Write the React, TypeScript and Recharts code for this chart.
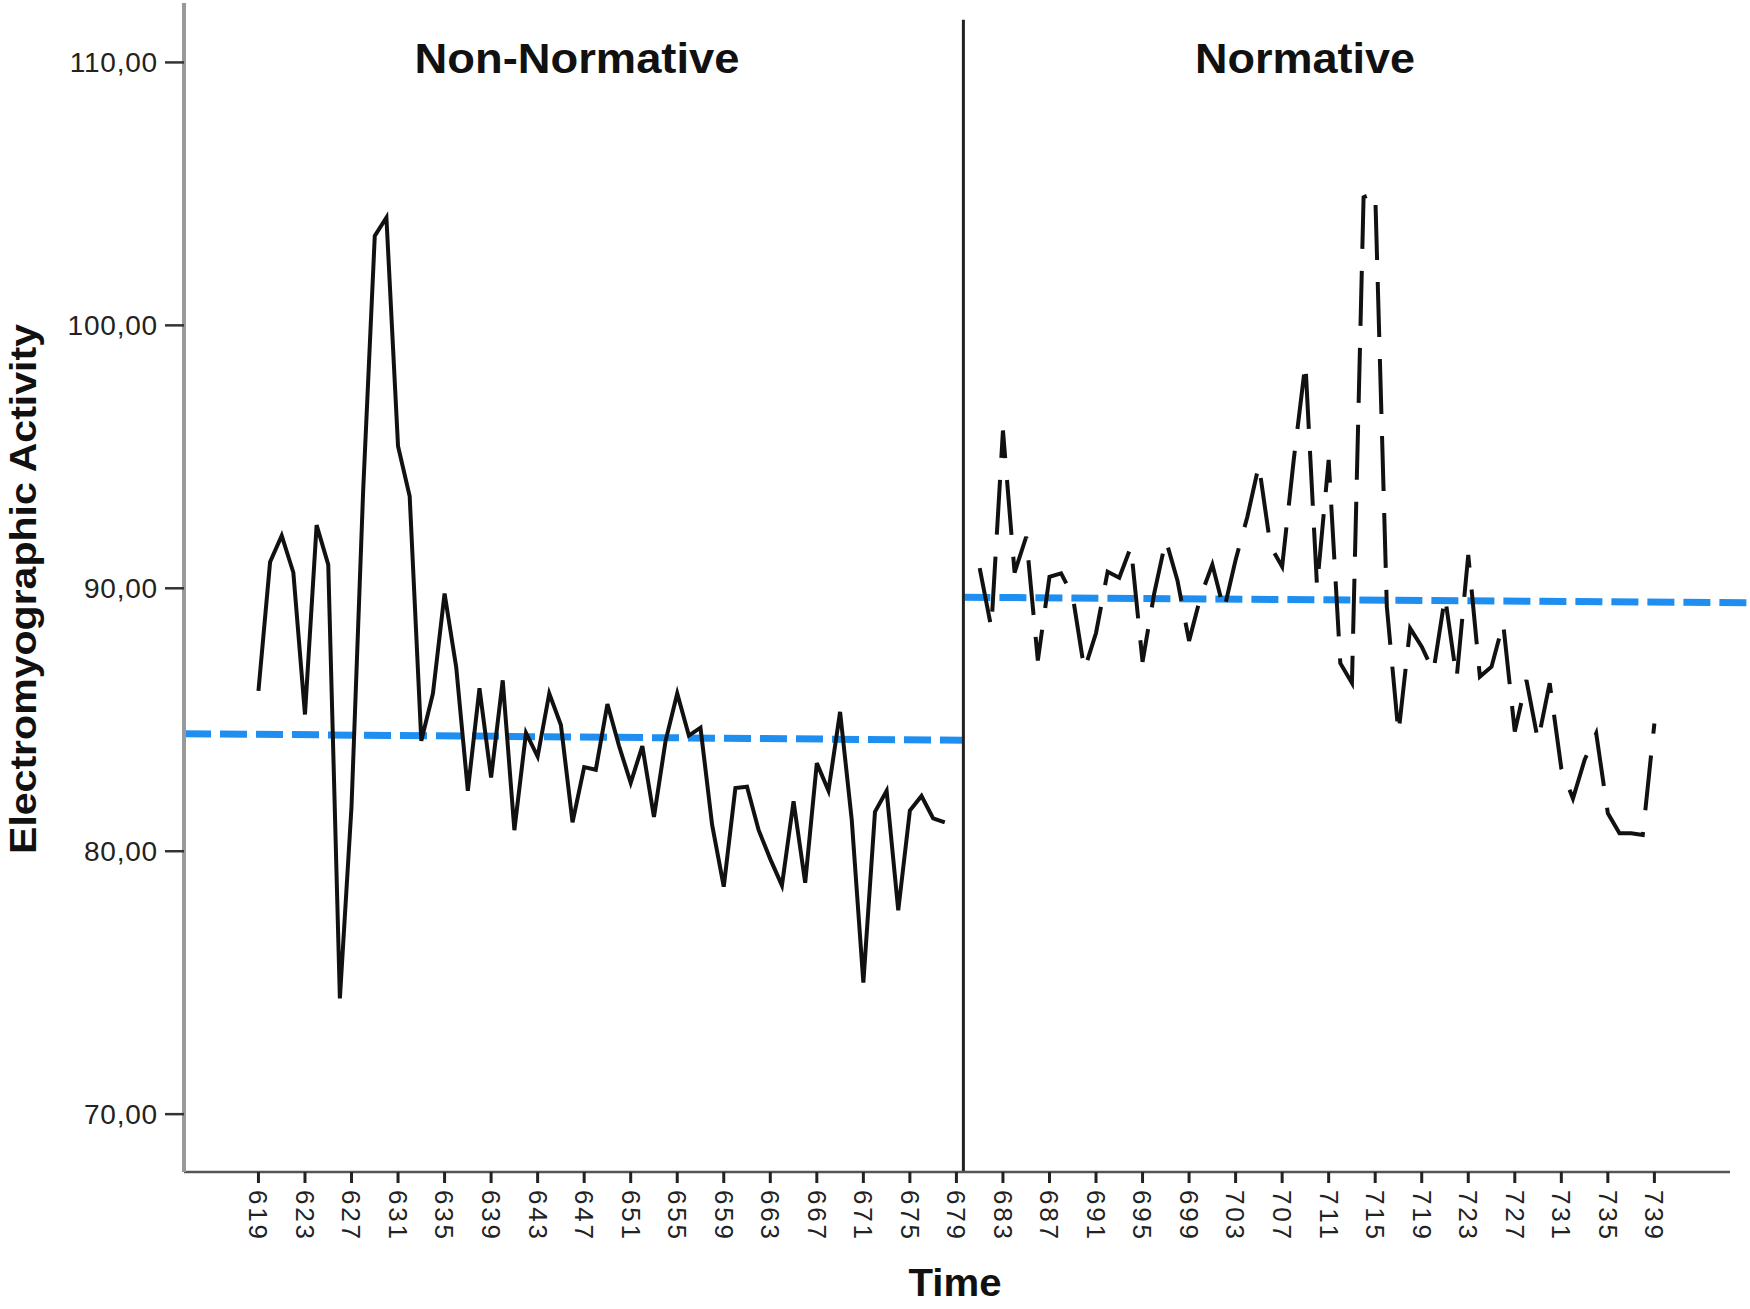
import React from 'react';
import { LineChart, Line, XAxis, YAxis, ReferenceLine } from 'recharts';

// time index of the first sample in each phase
const nonNormativeStart = 619;
const normativeStart = 681;

// EMG activity, one value per time point
const nonNormativeValues = [
  86.1, 91.0, 92.0, 90.6, 85.2, 92.4, 90.9, 74.4, 81.7, 93.7,
  103.4, 104.1, 95.4, 93.5, 84.2, 86.0, 89.8, 87.0, 82.3, 86.2,
  82.8, 86.5, 80.8, 84.5, 83.6, 86.0, 84.8, 81.1, 83.2, 83.1,
  85.6, 84.0, 82.6, 84.0, 81.3, 84.2, 86.0, 84.4, 84.7, 81.0,
  78.65, 82.4, 82.45, 80.8, 79.7, 78.7, 81.9, 78.8, 83.35, 82.3,
  85.3, 81.2, 75.0, 81.5, 82.3, 77.75, 81.55, 82.1, 81.25, 81.1,
];

const normativeValues = [
  90.77, 88.5, 96.0, 90.6, 91.96, 87.25, 90.44, 90.57, 89.7, 86.9,
  88.3, 90.63, 90.4, 91.58, 87.2, 89.8, 91.84, 90.3, 88.0, 89.7,
  90.9, 89.17, 91.08, 92.7, 94.69, 91.6, 90.82, 94.9, 98.56, 90.06,
  94.88, 87.15, 86.4, 104.87, 105.06, 89.3, 84.48, 88.48, 87.78, 86.83,
  89.68, 86.58, 91.27, 86.64, 87.02, 88.67, 84.55, 86.51, 84.2, 86.39,
  83.15, 82.0, 83.47, 84.48, 81.44, 80.68, 80.68, 80.62, 84.86,
];

// phase mean lines (start / end level)
const nonNormativeTrend = [84.47, 84.22];
const normativeTrend = [89.66, 89.45];

const timeTicks = [
  619, 623, 627, 631, 635, 639, 643, 647, 651, 655, 659, 663, 667, 671, 675, 679,
  683, 687, 691, 695, 699, 703, 707, 711, 715, 719, 723, 727, 731, 735, 739,
];
const yTicks = [70, 80, 90, 100, 110];

const timeDomain: [number, number] = [612.6, 745.5];
const yDomain: [number, number] = [67.8, 112.26];
const phaseChange = 679.6;
const trendEnd = 747.2;

const nonNormativeData = nonNormativeValues.map((v, i) => ({ time: nonNormativeStart + i, value: v }));
const normativeData = normativeValues.map((v, i) => ({ time: normativeStart + i, value: v }));

const FONT = "'Liberation Sans', Arial, sans-serif";
const BLUE = '#1e8ff0';

const XTick = (props: any) => {
  const { x, y, payload } = props;
  return (
    <text
      transform={`translate(${x},${y + 5}) rotate(90)`}
      textAnchor="start"
      dy="0.35em"
      fontSize={26}
      fontFamily={FONT}
      fill="#222"
      textLength={49}
      lengthAdjust="spacing"
    >
      {payload.value}
    </text>
  );
};

const YTick = (props: any) => {
  const { y, payload } = props;
  return (
    <text x={158} y={y} dy="0.35em" textAnchor="end" fontSize={28} fontFamily={FONT} fill="#222" letterSpacing={0.8}>
      {payload.value.toFixed(2).replace('.', ',')}
    </text>
  );
};

const App: React.FC = () => {
  return (
    <div style={{ position: 'absolute', left: 0, top: 0, width: 1750, height: 1309, background: '#fff' }}>
      <LineChart width={1750} height={1309} margin={{ top: 3, right: 20, bottom: 0, left: 0 }}>
        <XAxis
          dataKey="time"
          type="number"
          domain={timeDomain}
          allowDataOverflow
          ticks={timeTicks}
          interval={0}
          height={137}
          tickSize={11}
          axisLine={{ stroke: '#555', strokeWidth: 2.5 }}
          tickLine={{ stroke: '#222', strokeWidth: 3 }}
          tick={<XTick />}
        />
        <YAxis
          type="number"
          domain={yDomain}
          allowDataOverflow
          ticks={yTicks}
          interval={0}
          width={184}
          tickSize={19}
          axisLine={{ stroke: '#999', strokeWidth: 4 }}
          tickLine={{ stroke: '#333', strokeWidth: 2.5 }}
          tick={<YTick />}
        />
        <ReferenceLine
          segment={[{ x: timeDomain[0], y: nonNormativeTrend[0] }, { x: phaseChange, y: nonNormativeTrend[1] }]}
          stroke={BLUE}
          strokeWidth={7}
          strokeDasharray="27 9"
          ifOverflow="visible"
        />
        <ReferenceLine
          segment={[{ x: phaseChange, y: normativeTrend[0] }, { x: trendEnd, y: normativeTrend[1] }]}
          stroke={BLUE}
          strokeWidth={7}
          strokeDasharray="27 9"
          ifOverflow="visible"
        />
        <ReferenceLine
          segment={[{ x: phaseChange, y: 111.62 }, { x: phaseChange, y: yDomain[0] }]}
          stroke="#222"
          strokeWidth={3}
          ifOverflow="visible"
        />
        <Line
          data={nonNormativeData}
          dataKey="value"
          type="linear"
          stroke="#111"
          strokeWidth={4}
          dot={false}
          activeDot={false}
          isAnimationActive={false}
        />
        <Line
          data={normativeData}
          dataKey="value"
          type="linear"
          stroke="#111"
          strokeWidth={4}
          strokeDasharray="55 22"
          dot={false}
          activeDot={false}
          isAnimationActive={false}
        />
      </LineChart>
      <svg
        width={1750}
        height={1309}
        style={{ position: 'absolute', left: 0, top: 0, pointerEvents: 'none' }}
      >
        <text x={577} y={73} textAnchor="middle" fontSize={42} fontWeight="bold" fontFamily={FONT} fill="#111" textLength={325} lengthAdjust="spacingAndGlyphs">
          Non-Normative
        </text>
        <text x={1305} y={73} textAnchor="middle" fontSize={42} fontWeight="bold" fontFamily={FONT} fill="#111" textLength={220} lengthAdjust="spacingAndGlyphs">
          Normative
        </text>
        <text x={955} y={1296} textAnchor="middle" fontSize={38} fontWeight="bold" fontFamily={FONT} fill="#111" textLength={93} lengthAdjust="spacingAndGlyphs">
          Time
        </text>
        <text
          transform="translate(36,589) rotate(-90)"
          textAnchor="middle"
          fontSize={36}
          fontWeight="bold"
          fontFamily={FONT}
          fill="#111"
          textLength={530}
          lengthAdjust="spacingAndGlyphs"
        >
          Electromyographic Activity
        </text>
      </svg>
    </div>
  );
};

export default App;
